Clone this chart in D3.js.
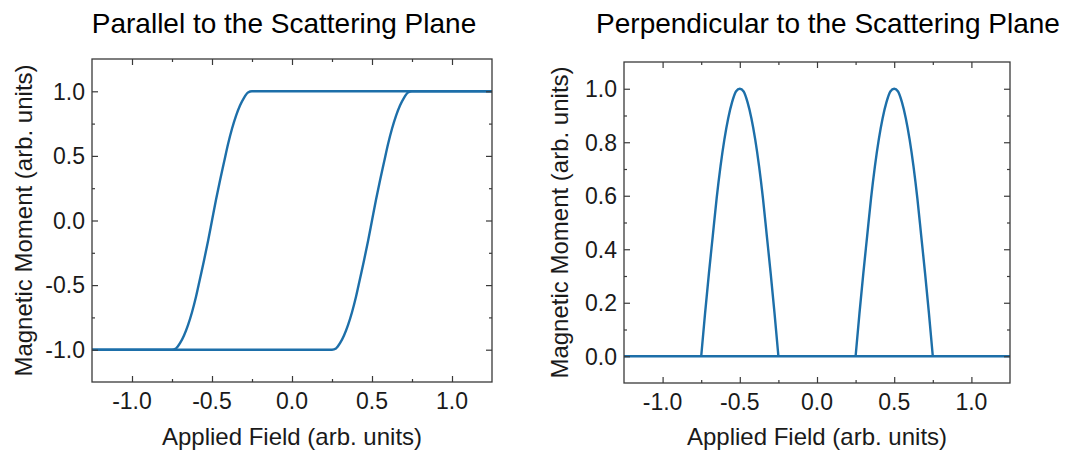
<!DOCTYPE html>
<html>
<head>
<meta charset="utf-8">
<script src="https://cdn.jsdelivr.net/npm/d3@7"></script>
<style>
  html, body { margin: 0; padding: 0; background: #fff; }
  svg { display: block; font-family: "Liberation Sans", Arial, sans-serif; }
</style>
</head>
<body>
<svg id="chart" width="1070" height="451"></svg>
<script>
// ---- Data ----
const titles = ["Parallel to the Scattering Plane", "Perpendicular to the Scattering Plane"];
const xAxisTitle = "Applied Field (arb. units)";
const yAxisTitle = "Magnetic Moment (arb. units)";

const xTicks = [-1.0, -0.5, 0.0, 0.5, 1.0];
const parYTicks = [-1.0, -0.5, 0.0, 0.5, 1.0];
const perpYTicks = [0.0, 0.2, 0.4, 0.6, 0.8, 1.0];

// Parallel: ascending branch (field increasing)
const risingField  = [-1.25, 0.25, 0.275, 0.30, 0.325, 0.35, 0.375, 0.40, 0.425, 0.45, 0.475, 0.50, 0.525, 0.55, 0.575, 0.60, 0.625, 0.65, 0.675, 0.70, 0.725, 0.75, 1.25];
const risingMoment = [-1, -1, -0.99, -0.95, -0.89, -0.81, -0.71, -0.59, -0.45, -0.31, -0.16, 0, 0.16, 0.31, 0.45, 0.59, 0.71, 0.81, 0.89, 0.95, 0.99, 1, 1];
// Parallel: descending branch (listed with field increasing)
const fallingField  = [-1.25, -0.75, -0.725, -0.70, -0.675, -0.65, -0.625, -0.60, -0.575, -0.55, -0.525, -0.50, -0.475, -0.45, -0.425, -0.40, -0.375, -0.35, -0.325, -0.30, -0.275, -0.25, 1.25];
const fallingMoment = [-1, -1, -0.99, -0.95, -0.89, -0.81, -0.71, -0.59, -0.45, -0.31, -0.16, 0, 0.16, 0.31, 0.45, 0.59, 0.71, 0.81, 0.89, 0.95, 0.99, 1, 1];

// Perpendicular component: zero baseline and two lobes
const perpBaseField  = [-1.25, 1.25];
const perpBaseMoment = [0, 0];
const perpLobe1Field  = [-0.75, -0.725, -0.70, -0.675, -0.65, -0.625, -0.60, -0.575, -0.55, -0.525, -0.50, -0.475, -0.45, -0.425, -0.40, -0.375, -0.35, -0.325, -0.30, -0.275, -0.25];
const perpLobe2Field  = [0.25, 0.275, 0.30, 0.325, 0.35, 0.375, 0.40, 0.425, 0.45, 0.475, 0.50, 0.525, 0.55, 0.575, 0.60, 0.625, 0.65, 0.675, 0.70, 0.725, 0.75];
const perpLobeMoment  = [0, 0.16, 0.31, 0.45, 0.59, 0.71, 0.81, 0.89, 0.95, 0.99, 1, 0.99, 0.95, 0.89, 0.81, 0.71, 0.59, 0.45, 0.31, 0.16, 0];

// ---- Drawing ----
const svg = d3.select("#chart");
const lineColor = "#1d6fa9";
const frameColor = "#3a3a3a";
const textColor = "#1a1a1a";

function zip(xs, ys) { return xs.map((x, i) => ({x: x, y: ys[i]})); }

function panel(cfg) {
  const g = svg.append("g");
  const x = d3.scaleLinear().domain([-1.25, 1.25]).range([cfg.left, cfg.right]);
  const y = d3.scaleLinear().domain(cfg.yDomain).range([cfg.bottom, cfg.top]);

  // series (drawn under the frame)
  const clipId = "clip" + cfg.id;
  svg.append("clipPath").attr("id", clipId).append("rect")
    .attr("x", cfg.left).attr("y", cfg.top)
    .attr("width", cfg.right - cfg.left).attr("height", cfg.bottom - cfg.top);
  const line = d3.line().x(d => x(d.x)).y(d => y(d.y)).curve(d3.curveMonotoneX);
  cfg.series.forEach(s => {
    g.append("path").datum(s)
      .attr("clip-path", `url(#${clipId})`)
      .attr("d", line)
      .attr("fill", "none").attr("stroke", lineColor)
      .attr("stroke-width", 2.4).attr("stroke-linejoin", "round");
  });

  // frame
  g.append("rect")
    .attr("x", cfg.left).attr("y", cfg.top)
    .attr("width", cfg.right - cfg.left).attr("height", cfg.bottom - cfg.top)
    .attr("fill", "none").attr("stroke", frameColor).attr("stroke-width", 1.3);

  const tickStyle = sel => {
    sel.select(".domain").remove();
    sel.selectAll(".tick line").attr("stroke", frameColor).attr("stroke-width", 1.2);
    sel.selectAll("text").remove();
  };

  // major ticks (inward, all four sides)
  g.append("g").attr("transform", `translate(0,${cfg.bottom})`)
    .call(d3.axisBottom(x).tickValues(xTicks).tickSizeInner(-6).tickSizeOuter(0)).call(tickStyle);
  g.append("g").attr("transform", `translate(0,${cfg.top})`)
    .call(d3.axisTop(x).tickValues(xTicks).tickSizeInner(-6).tickSizeOuter(0)).call(tickStyle);
  g.append("g").attr("transform", `translate(${cfg.left},0)`)
    .call(d3.axisLeft(y).tickValues(cfg.yTicks).tickSizeInner(-6).tickSizeOuter(0)).call(tickStyle);
  g.append("g").attr("transform", `translate(${cfg.right},0)`)
    .call(d3.axisRight(y).tickValues(cfg.yTicks).tickSizeInner(-6).tickSizeOuter(0)).call(tickStyle);

  // minor ticks
  const xMinor = [-0.75, -0.25, 0.25, 0.75];
  g.append("g").attr("transform", `translate(0,${cfg.bottom})`)
    .call(d3.axisBottom(x).tickValues(xMinor).tickSizeInner(-3).tickSizeOuter(0)).call(tickStyle);
  g.append("g").attr("transform", `translate(0,${cfg.top})`)
    .call(d3.axisTop(x).tickValues(xMinor).tickSizeInner(-3).tickSizeOuter(0)).call(tickStyle);
  g.append("g").attr("transform", `translate(${cfg.left},0)`)
    .call(d3.axisLeft(y).tickValues(cfg.yMinor).tickSizeInner(-3).tickSizeOuter(0)).call(tickStyle);
  g.append("g").attr("transform", `translate(${cfg.right},0)`)
    .call(d3.axisRight(y).tickValues(cfg.yMinor).tickSizeInner(-3).tickSizeOuter(0)).call(tickStyle);

  // tick labels
  const fmt = d => d3.format(".1f")(d).replace("−", "-");
  g.selectAll(".xl").data(xTicks).enter().append("text")
    .attr("x", d => x(d)).attr("y", cfg.bottom + 27)
    .attr("text-anchor", "middle").attr("font-size", 23).attr("fill", textColor)
    .text(fmt);
  g.selectAll(".yl").data(cfg.yTicks).enter().append("text")
    .attr("x", cfg.left - 7).attr("y", d => y(d)).attr("dy", "0.36em")
    .attr("text-anchor", "end").attr("font-size", 23).attr("fill", textColor)
    .text(fmt);

  // axis titles
  g.append("text").attr("x", (cfg.left + cfg.right) / 2).attr("y", 445)
    .attr("text-anchor", "middle").attr("font-size", 24).attr("fill", textColor)
    .text(xAxisTitle);
  g.append("text")
    .attr("transform", `translate(${cfg.yTitleX},${(cfg.top + cfg.bottom) / 2}) rotate(-90)`)
    .attr("text-anchor", "middle").attr("font-size", 24).attr("fill", textColor)
    .text(yAxisTitle);

  // chart title
  g.append("text").attr("x", cfg.titleX).attr("y", 33)
    .attr("text-anchor", "middle").attr("font-size", 28).attr("fill", "#000")
    .text(cfg.title);
}

panel({
  id: 1, left: 92, right: 492, top: 59, bottom: 382,
  yDomain: [-1.25, 1.25], yTicks: parYTicks, yMinor: [-0.75, -0.25, 0.25, 0.75],
  yTitleX: 32, titleX: 284, title: titles[0],
  series: [zip(risingField, risingMoment), zip(fallingField, fallingMoment)]
});

panel({
  id: 2, left: 624, right: 1010, top: 62, bottom: 383,
  yDomain: [-0.1, 1.1], yTicks: perpYTicks, yMinor: [0.1, 0.3, 0.5, 0.7, 0.9],
  yTitleX: 568, titleX: 828, title: titles[1],
  series: [zip(perpBaseField, perpBaseMoment), zip(perpLobe1Field, perpLobeMoment), zip(perpLobe2Field, perpLobeMoment)]
});
</script>
</body>
</html>
